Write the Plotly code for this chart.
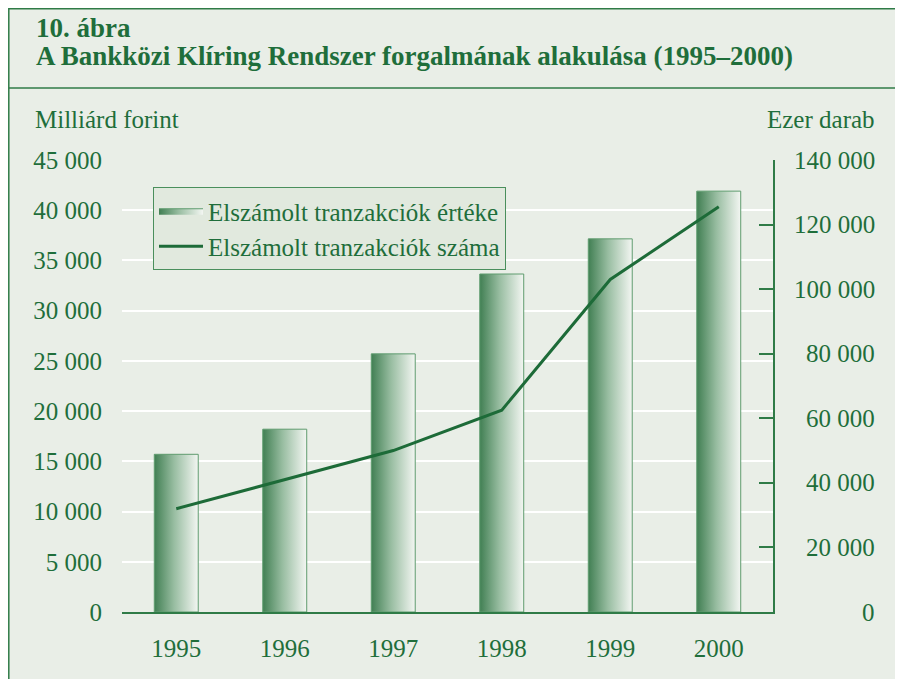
import plotly.graph_objects as go

years = ["1995", "1996", "1997", "1998", "1999", "2000"]
value_bn_huf = [15700, 18200, 25700, 33650, 37150, 41900]
count_thousand = [32000, 41000, 50000, 62500, 103000, 125500]
left_ticks = [0, 5000, 10000, 15000, 20000, 25000, 30000, 35000, 40000, 45000]
right_ticks = [0, 20000, 40000, 60000, 80000, 100000, 120000, 140000]

BG = "#e9eee7"
GREEN_TXT = "#1f6e3b"
GREEN_LINE = "#1d6b38"
FRAME = "#2f7b47"
FONT = "Liberation Serif"

# page offset of the figure (browser body margin)
OFF = 8
W, H = 903 - OFF, 679 - OFF
# plot area in page pixels
PX0, PX1, PY0, PY1 = 122, 773, 160, 612
L, R = PX0 - OFF, W - (PX1 - OFF)
T, B = PY0 - OFF, H - (PY1 - OFF)
PW, PH = PX1 - PX0, PY1 - PY0


def px(x):
    return (x - PX0) / PW


def py(y):
    return (PY1 - y) / PH


bar_w = 0.405
fig = go.Figure()

for i, (yr, v) in enumerate(zip(years, value_bn_huf)):
    x0, x1 = i - bar_w / 2, i + bar_w / 2
    fig.add_trace(go.Scatter(
        x=[x0, x0, x1, x1, x0], y=[0, v, v, 0, 0],
        mode="lines", fill="toself",
        line=dict(color="#5f9c6f", width=1),
        fillgradient=dict(type="horizontal",
                          colorscale=[[0, "#417f53"], [0.45, "#98bda1"], [1, "#f3f6f2"]]),
        name="Elszámolt tranzakciók értéke",
        legendgroup="bars", showlegend=(i == 0),
        hoverinfo="skip",
    ))

fig.add_trace(go.Scatter(
    x=list(range(len(years))), y=count_thousand, yaxis="y2",
    mode="lines", line=dict(color=GREEN_LINE, width=3),
    name="Elszámolt tranzakciók száma",
))

fig.update_layout(
    width=W, height=H,
    margin=dict(l=L, r=R, t=T, b=B),
    paper_bgcolor="white", plot_bgcolor=BG,
    separators=", ",
    font=dict(family=FONT, size=25, color=GREEN_TXT),
    xaxis=dict(
        range=[-0.5, len(years) - 0.5],
        tickvals=list(range(len(years))), ticktext=years,
        showgrid=False, zeroline=False,
        showline=True, linecolor=FRAME, linewidth=1.5,
        ticks="outside", ticklen=13, tickcolor="rgba(0,0,0,0)",
        tickfont=dict(size=25, color=GREEN_TXT),
    ),
    yaxis=dict(
        range=[0, 45000], tickvals=left_ticks, tickformat=",d",
        showgrid=True, gridcolor="white", gridwidth=2,
        zeroline=False, showline=False,
        ticks="outside", ticklen=14, tickcolor="rgba(0,0,0,0)",
        tickfont=dict(size=25, color=GREEN_TXT),
    ),
    yaxis2=dict(
        range=[0, 140000], tickvals=right_ticks,
        overlaying="y", side="right",
        showgrid=False, zeroline=False,
        showline=True, linecolor=FRAME, linewidth=1.5,
        ticks="inside", ticklen=14, tickcolor=FRAME, tickwidth=1.5,
        showticklabels=False,
    ),
    legend=dict(
        x=px(153), y=py(187), xanchor="left", yanchor="top",
        bgcolor="#e1e9de", bordercolor="#4a8f5c", borderwidth=1,
        font=dict(size=25, color=GREEN_TXT),
        itemwidth=44, tracegroupgap=0,
    ),
    showlegend=True,
)

shapes = [
    dict(type="rect", xref="paper", yref="paper",
         x0=px(8.8), x1=px(900), y0=py(700), y1=py(OFF + 0.8),
         line=dict(color=FRAME, width=1.5), fillcolor=BG, layer="below"),
    dict(type="line", xref="paper", yref="paper",
         x0=px(8.8), x1=px(900), y0=py(88), y1=py(88),
         line=dict(color=FRAME, width=1.5)),
]

annotations = [
    dict(text="<b>10. ábra</b>", xref="paper", yref="paper", x=px(34), y=py(28),
         xanchor="left", yanchor="middle", showarrow=False,
         font=dict(size=27, color=GREEN_TXT, family=FONT)),
    dict(text="<b>A Bankközi Klíring Rendszer forgalmának alakulása (1995–2000)</b>",
         xref="paper", yref="paper", x=px(34), y=py(56),
         xanchor="left", yanchor="middle", showarrow=False,
         font=dict(size=27, color=GREEN_TXT, family=FONT)),
    dict(text="Milliárd forint", xref="paper", yref="paper", x=px(33), y=py(119),
         xanchor="left", yanchor="middle", showarrow=False,
         font=dict(size=25, color=GREEN_TXT, family=FONT)),
    dict(text="Ezer darab", xref="paper", yref="paper", x=px(877), y=py(119),
         xanchor="right", yanchor="middle", showarrow=False,
         font=dict(size=25, color=GREEN_TXT, family=FONT)),
]
for v in right_ticks:
    annotations.append(dict(
        text=f"{v:,}".replace(",", " "), xref="paper", yref="y2",
        x=px(877), y=v, xanchor="right", yanchor="middle", showarrow=False,
        font=dict(size=25, color=GREEN_TXT, family=FONT)))

fig.update_layout(shapes=shapes, annotations=annotations)
fig.write_html("out.html")
